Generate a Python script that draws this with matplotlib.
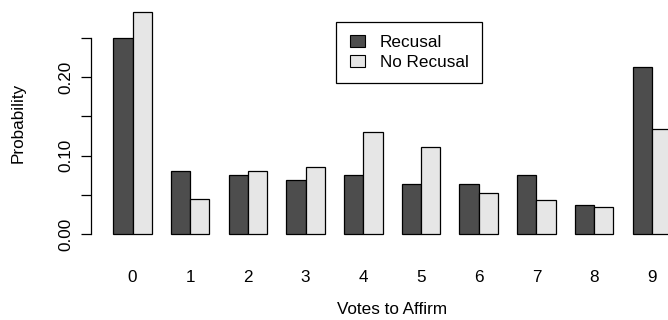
import matplotlib.pyplot as plt
import matplotlib.patches as mpatches
import numpy as np

plt.rcParams['font.family'] = ['Liberation Sans', 'DejaVu Sans']
plt.rcParams['font.size'] = 12.3

votes = ['0', '1', '2', '3', '4', '5', '6', '7', '8', '9']
recusal = [0.250, 0.080, 0.075, 0.069, 0.075, 0.064, 0.064, 0.075, 0.037, 0.213]
no_recusal = [0.283, 0.045, 0.081, 0.085, 0.130, 0.111, 0.053, 0.043, 0.035, 0.1335]

dark = '#4d4d4d'
light = '#e6e6e6'

fig = plt.figure(figsize=(6.68, 3.2), dpi=100)
# plot region runs past the right edge, like the original
ax = fig.add_axes([91 / 668, 76.8 / 320, 602.3 / 668, 240.4 / 320])

# R barplot style positions: groups of 2 bars with a 1-bar gap
left = 1 + 3 * np.arange(len(votes))
ax.bar(left, recusal, width=1, align='edge', color=dark, edgecolor='black', linewidth=0.9)
ax.bar(left + 1, no_recusal, width=1, align='edge', color=light, edgecolor='black', linewidth=0.9)

ax.set_xlim(-0.16, 31.16)
ax.set_ylim(-0.0113, 0.2943)

for s in ['top', 'right', 'bottom']:
    ax.spines[s].set_visible(False)
ax.spines['left'].set_bounds(0, 0.25)
ax.spines['left'].set_linewidth(0.9)

yt = [0.0, 0.05, 0.10, 0.15, 0.20, 0.25]
ax.set_yticks(yt)
ax.set_yticklabels(['0.00', '', '0.10', '', '0.20', ''], rotation=90, va='center')
ax.tick_params(axis='y', length=7, width=0.9, pad=5.5)

ax.set_xticks(left + 1)
ax.set_xticklabels(votes)
ax.tick_params(axis='x', length=0, pad=19)

fig.text(392 / 668, 1 - 309.5 / 320, 'Votes to Affirm', ha='center', va='center')
fig.text(18 / 668, 1 - 123 / 320, 'Probability', rotation=90, ha='center', va='center')

handles = [mpatches.Patch(facecolor=dark, edgecolor='black', linewidth=0.8),
           mpatches.Patch(facecolor=light, edgecolor='black', linewidth=0.8)]
leg = fig.legend(handles, ['Recusal', 'No Recusal'], loc='upper left',
                 bbox_to_anchor=(336 / 668, 1 - 21.7 / 320), borderaxespad=0,
                 fancybox=False, frameon=True, edgecolor='black', framealpha=1,
                 handlelength=0.9, handleheight=0.7, handletextpad=0.85,
                 borderpad=0.8, labelspacing=0.25)
leg.get_frame().set_linewidth(0.9)

fig.savefig('out.png', dpi=100)
